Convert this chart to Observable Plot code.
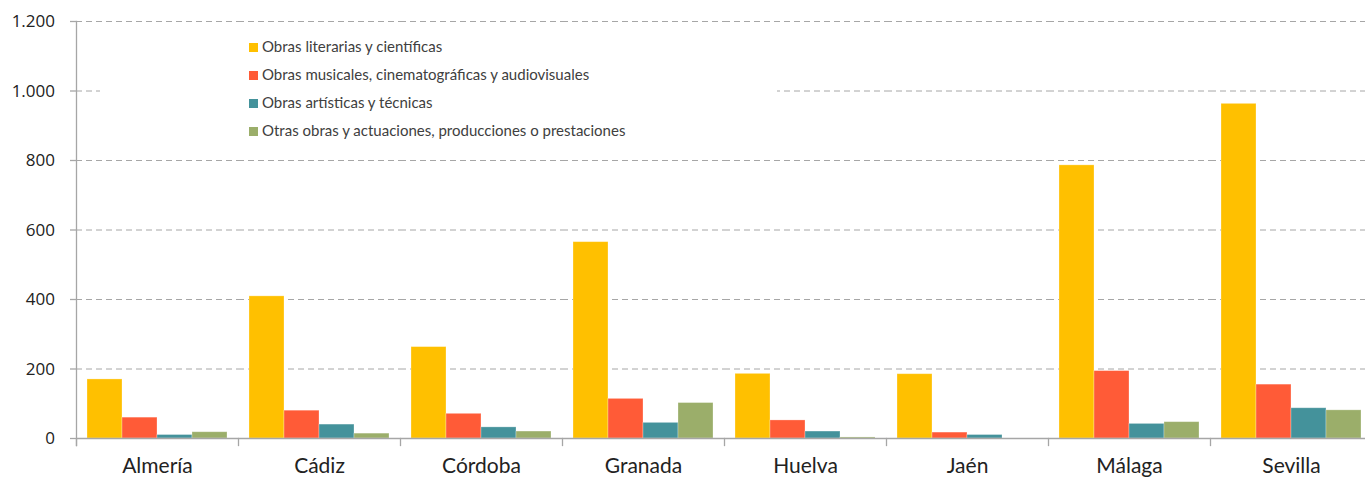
<!DOCTYPE html>
<html>
<head>
<meta charset="utf-8">
<script src="https://cdn.jsdelivr.net/npm/d3@7"></script>
<script src="https://cdn.jsdelivr.net/npm/@observablehq/plot@0.6"></script>
<style>
  html, body { margin: 0; padding: 0; overflow: hidden; background: #fff; }
  #wrap { position: relative; width: 1365px; height: 477px; overflow: hidden; }
  #wrap svg { max-width: none !important; }
  #legend { position: absolute; left: 100px; top: 30px; width: 677px; height: 122px; background: #fff;
            font-family: Lato, "Open Sans", sans-serif; font-size: 15px; color: #404040; }
  .item { position: absolute; left: 149px; height: 20px; line-height: 20px; white-space: nowrap; }
  .sw { display: inline-block; width: 9px; height: 9px; margin-right: 4px; vertical-align: 0px; }
  .ylab { position: absolute; right: 1310px; height: 20px; line-height: 20px; margin-top: -10px;
          font-family: "Open Sans", sans-serif; font-size: 17px; color: #222; white-space: nowrap; text-align: right; }
</style>
</head>
<body>
<div id="wrap"><div id="legend"></div></div>
<script>
const provinces = ["Almería", "Cádiz", "Córdoba", "Granada", "Huelva", "Jaén", "Málaga", "Sevilla"];
const series = [
  "Obras literarias y científicas",
  "Obras musicales, cinematográficas y audiovisuales",
  "Obras artísticas y técnicas",
  "Otras obras y actuaciones, producciones o prestaciones"
];
const literarias = [170, 409, 263, 565, 186, 185, 786, 963];
const musicales  = [60, 80, 71, 114, 52, 17, 194, 155];
const artisticas = [10, 40, 32, 45, 20, 10, 42, 87];
const otras      = [18, 14, 20, 102, 3, 0, 47, 81];
const colors = ["#FFC000", "#FF5B37", "#44929B", "#9BAE6A"];
const yTicks = [0, 200, 400, 600, 800, 1000, 1200];

const values = [literarias, musicales, artisticas, otras];
const data = provinces.flatMap((p, i) => series.map((s, j) => ({province: p, series: s, value: values[j][i]})));

const fmt = d => d3.format(",")(d).replace(/,/g, ".");

const chart = Plot.plot({
  width: 1375,
  height: 477,
  marginLeft: 75,
  marginRight: 2,
  marginTop: 21,
  marginBottom: 39,
  style: {fontFamily: "'Open Sans', sans-serif", background: "transparent", color: "#222", maxWidth: "none"},
  fx: {domain: provinces, paddingInner: 0, paddingOuter: 0, label: null},
  x: {domain: series, paddingInner: 0, paddingOuter: 0.31, axis: null},
  y: {domain: [0, 1200], label: null},
  color: {domain: series, range: colors},
  marks: [
    Plot.gridY(yTicks.slice(1), {stroke: "#a6a6a6", strokeOpacity: 1, strokeDasharray: "6,4"}),
    Plot.barY(data, {fx: "province", x: "series", y: "value", fill: "series", stroke: "#ffffff", strokeOpacity: 0.35, strokeWidth: 0.8}),
    Plot.ruleY([0], {stroke: "#a6a6a6", strokeWidth: 1.3}),
    Plot.frame({anchor: "left", insetTop: 417, insetBottom: -7, stroke: "#a6a6a6", strokeWidth: 1.3}),
    Plot.frame({anchor: "left", facet: "super", insetBottom: -7, stroke: "#a6a6a6", strokeWidth: 1.3}),
    Plot.axisY({ticks: yTicks, tickSize: 6, tickFormat: () => "", stroke: "#a6a6a6", strokeWidth: 1.3}),
    Plot.axisFx({anchor: "bottom", tickSize: 0, tickPadding: 20, fontSize: 21, fontFamily: "Lato, sans-serif", fill: "#222", label: null})
  ]
});
chart.style.maxWidth = "none";

const wrap = document.getElementById("wrap");
wrap.prepend(chart);

// y tick labels positioned through Plot's own y scale
const yScale = chart.scale("y");
yTicks.forEach(v => {
  const lab = document.createElement("div");
  lab.className = "ylab";
  lab.style.top = yScale.apply(v) + "px";
  lab.textContent = fmt(v);
  wrap.appendChild(lab);
});

const legend = document.getElementById("legend");
series.forEach((s, i) => {
  const it = document.createElement("div");
  it.className = "item";
  it.style.top = (6 + i * 28) + "px";
  const sw = document.createElement("span");
  sw.className = "sw";
  sw.style.background = colors[i];
  it.appendChild(sw);
  it.appendChild(document.createTextNode(s));
  legend.appendChild(it);
});
</script>
</body>
</html>
